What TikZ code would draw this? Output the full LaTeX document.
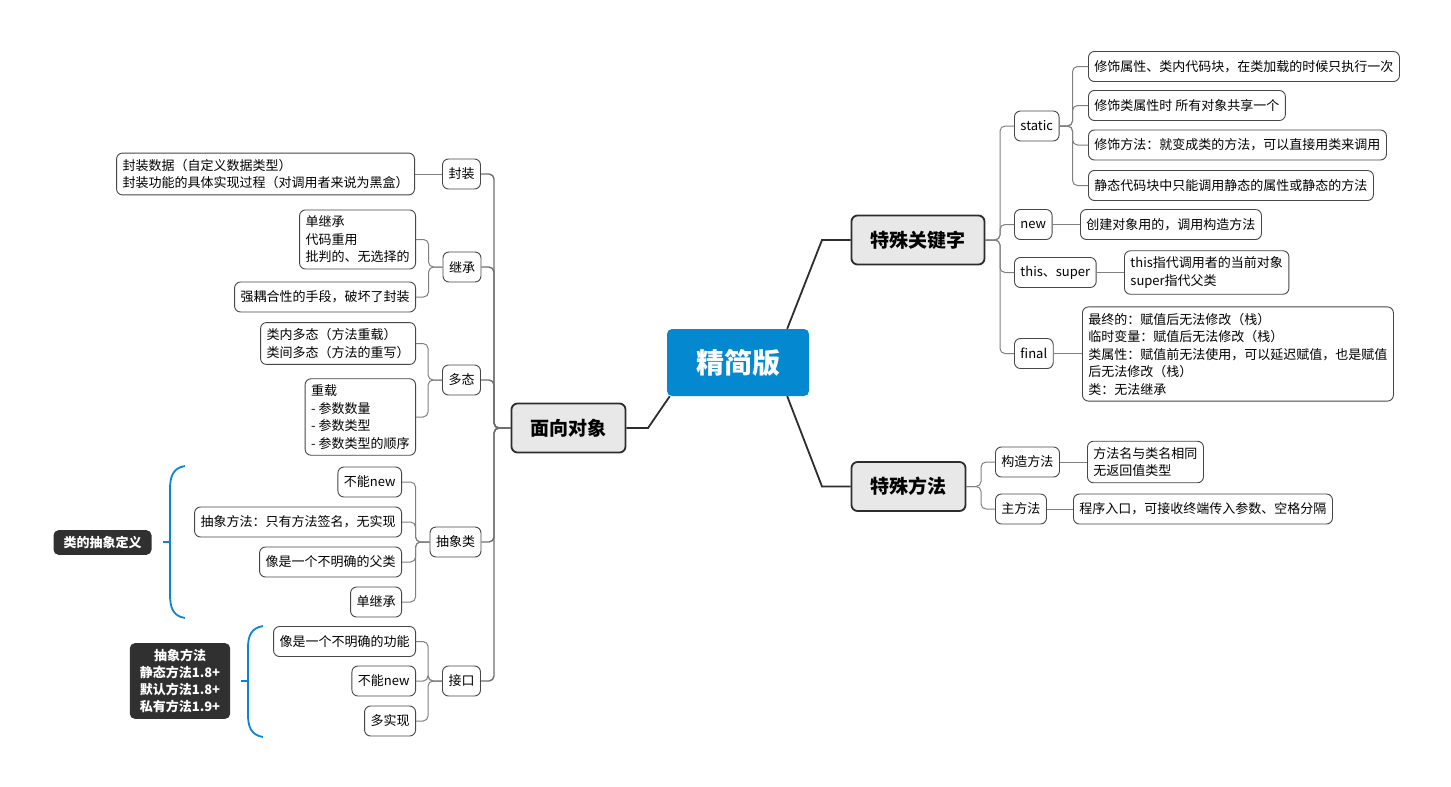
\documentclass[tikz,border=0pt]{standalone}
\usepackage{fontspec}
\setmainfont{Noto Sans CJK SC}
\usetikzlibrary{calc}
\definecolor{rootblue}{RGB}{4,136,208}
\definecolor{topicfill}{RGB}{232,232,232}
\definecolor{topicline}{RGB}{45,45,45}
\definecolor{leafline}{RGB}{70,70,70}
\definecolor{connline}{RGB}{128,128,128}
\definecolor{trunkline}{RGB}{110,110,110}
\definecolor{tagfill}{RGB}{48,48,48}
\definecolor{braceblue}{RGB}{12,132,210}
\tikzset{
  root/.style={fill=rootblue,rounded corners=5pt,text=white,font=\fontsize{28}{32}\selectfont\bfseries,minimum width=142pt,minimum height=67pt},
  topic/.style={draw=topicline,line width=1.8pt,fill=topicfill,rounded corners=6pt,font=\fontsize{19}{22}\selectfont\bfseries,minimum height=49pt,inner xsep=19pt},
  leaf/.style={draw=leafline,line width=0.9pt,fill=white,rounded corners=6pt,font=\fontsize{13}{17.5}\selectfont,align=left,inner xsep=6pt,inner ysep=6pt,minimum height=30pt},
  tag/.style={fill=tagfill,rounded corners=5pt,text=white,font=\fontsize{13}{17}\selectfont\bfseries,align=center,inner xsep=10pt,inner ysep=6pt},
  conn/.style={draw=connline,line width=1pt,rounded corners=5pt},
  trunk/.style={draw=trunkline,line width=1.4pt,rounded corners=5pt},
  mainconn/.style={draw=topicline,line width=1.8pt},
  brace/.style={draw=braceblue,line width=1.8pt}
}
\begin{document}
\begin{tikzpicture}[x=1pt,y=-1pt]
\useasboundingbox (0,0) rectangle (1451,787);
% centre
\node[root] (root) at (738,362.5) {精简版};
\node[topic] (oo) at (568.5,428) {面向对象};
\node[topic] (kw) at (918,240) {特殊关键字};
\node[topic] (sm) at (908.5,486.5) {特殊方法};
\draw[mainconn] (oo.east) -- (648,428) -- ([xshift=3pt]root.south west);
\draw[mainconn] ([xshift=-22pt]root.north east) -- (822,240) -- (kw.west);
\draw[mainconn] ([xshift=-22pt]root.south east) -- (822,486.5) -- (sm.west);
% left side
\begin{scope}[every node/.style={leaf}]
\node (fz) at (461.5,174) {封装};
\node (jc) at (462,267) {继承};
\node (dt) at (461.5,380) {多态};
\node (cx) at (455.5,542) {抽象类};
\node (jk) at (461.5,681) {接口};
\node[anchor=east] (fz1) at (415,174) {封装数据（自定义数据类型）\\封装功能的具体实现过程（对调用者来说为黑盒）};
\node[anchor=east] (jc1) at (416,239.5) {单继承\\代码重用\\批判的、无选择的};
\node[anchor=east] (jc2) at (416,297) {强耦合性的手段，破坏了封装};
\node[anchor=east] (dt1) at (416,343.5) {类内多态（方法重载）\\类间多态（方法的重写）};
\node[anchor=east] (dt2) at (416,417) {重载\\- 参数数量\\- 参数类型\\- 参数类型的顺序};
\node[anchor=east] (cx1) at (402,482) {不能new};
\node[anchor=east] (cx2) at (402,522) {抽象方法：只有方法签名，无实现};
\node[anchor=east] (cx3) at (402,562) {像是一个不明确的父类};
\node[anchor=east] (cx4) at (402,602) {单继承};
\node[anchor=east] (jk1) at (416,641.5) {像是一个不明确的功能};
\node[anchor=east] (jk2) at (416,681) {不能new};
\node[anchor=east] (jk3) at (416,721) {多实现};
\end{scope}
\foreach \c in {fz,jc,dt,cx,jk} \draw[trunk] (oo.west) -- (494,428) |- (\c.east);
\draw[conn] (fz.west) -- (fz1.east);
\foreach \c in {jc1,jc2} \draw[conn] (jc.west) -- ++(-14,0) |- (\c.east);
\foreach \c in {dt1,dt2} \draw[conn] (dt.west) -- ++(-14,0) |- (\c.east);
\foreach \c in {cx1,cx2,cx3,cx4} \draw[conn] (cx.west) -- ++(-14,0) |- (\c.east);
\foreach \c in {jk1,jk2,jk3} \draw[conn] (jk.west) -- ++(-14,0) |- (\c.east);
% braces and their labels
\draw[brace] (185,466) .. controls (173,468) and (170,476) .. (170,490) -- (170,594) .. controls (170,608) and (173,616) .. (185,618);
\draw[brace] (163,542) -- (170,542);
\node[tag] (cxdef) at (102.5,542.5) {类的抽象定义};
\draw[brace] (263,626) .. controls (251,628) and (248,636) .. (248,648) -- (248,714) .. controls (248,727) and (251,735) .. (263,737);
\draw[brace] (241,681) -- (248,681);
\node[tag] (jkdef) at (180,681) {抽象方法\\静态方法1.8+\\默认方法1.8+\\私有方法1.9+};
% right side
\begin{scope}[every node/.style={leaf}]
\node[anchor=west] (st) at (1014,126) {static};
\node[anchor=west] (nw) at (1014,224.5) {new};
\node[anchor=west] (ts) at (1014,272.5) {this、super};
\node[anchor=west] (fn) at (1014,353.5) {final};
\foreach \n/\y/\t in {1/66.5/修饰属性、类内代码块，在类加载的时候只执行一次,2/105.5/修饰类属性时 所有对象共享一个,3/145/修饰方法：就变成类的方法，可以直接用类来调用,4/185.5/静态代码块中只能调用静态的属性或静态的方法}
  \node[anchor=west] (st\n) at (1088,\y) {\t};
\node[anchor=west] (nw1) at (1080,224.5) {创建对象用的，调用构造方法};
\node[anchor=west] (ts1) at (1124,272.5) {this指代调用者的当前对象\\super指代父类};
\node[anchor=west] (fn1) at (1082,354) {最终的：赋值后无法修改（栈）\\临时变量：赋值后无法修改（栈）\\类属性：赋值前无法使用，可以延迟赋值，也是赋值\\后无法修改（栈）\\类：无法继承};
\node[anchor=west] (gz) at (995,462) {构造方法};
\node[anchor=west] (zf) at (995,509) {主方法};
\node[anchor=west] (gz1) at (1087,462) {方法名与类名相同\\无返回值类型};
\node[anchor=west] (zf1) at (1073,509) {程序入口，可接收终端传入参数、空格分隔};
\end{scope}
\foreach \c in {st,nw,ts,fn} \draw[conn] (kw.east) -- (1000,240) |- (\c.west);
\foreach \c in {st1,st2,st3,st4} \draw[conn] (st.east) -- ++(13,0) |- (\c.west);
\draw[conn] (nw.east) -- (nw1.west);
\draw[conn] (ts.east) -- (ts1.west);
\draw[conn] (fn.east) -- (fn1.west |- fn.east);
\foreach \c in {gz,zf} \draw[conn] (sm.east) -- (981,486.5) |- (\c.west);
\draw[conn] (gz.east) -- (gz1.west |- gz.east);
\draw[conn] (zf.east) -- (zf1.west);
\end{tikzpicture}
\end{document}
